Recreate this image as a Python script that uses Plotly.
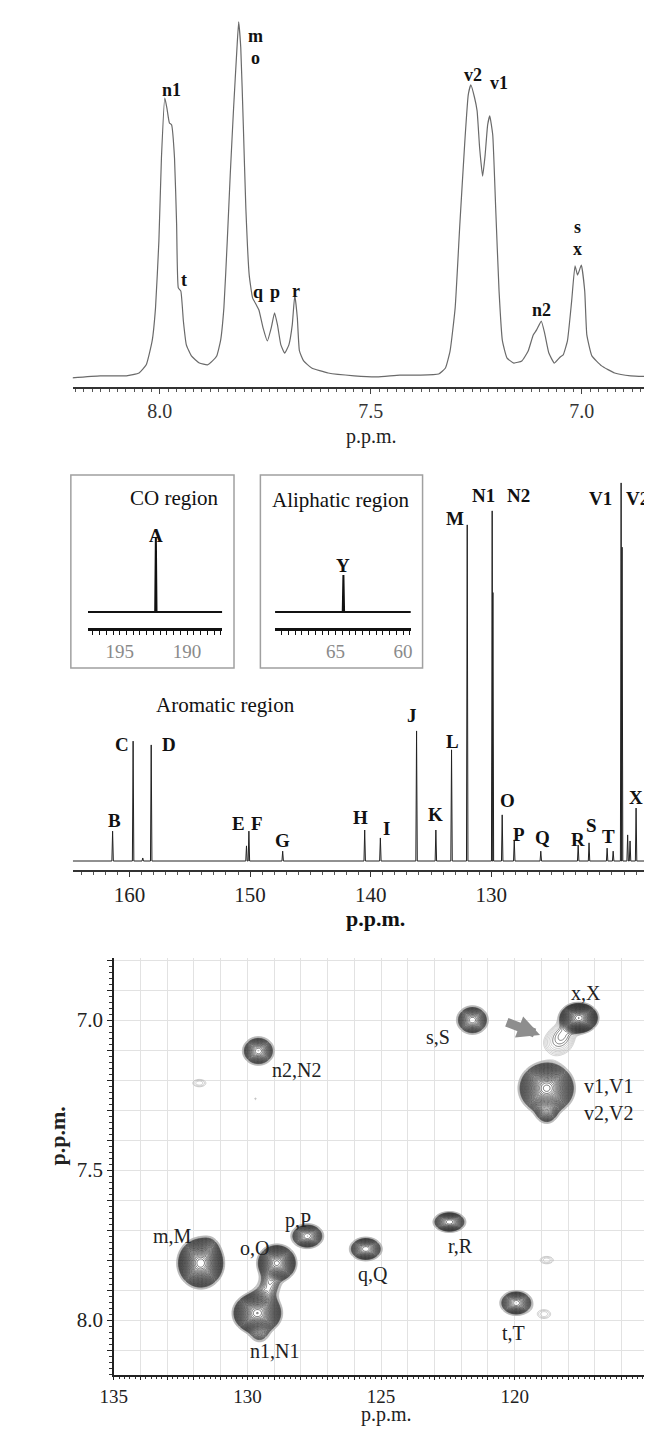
import numpy as np
import plotly.graph_objects as go

W, H = 652, 1434
SERIF = "Liberation Serif, Times New Roman, serif"

# ---------------- 1H spectrum ----------------
h1_ppm = [8.211, 8.141, 8.079, 8.049, 8.032, 8.018, 8.010, 8.002, 7.996, 7.988, 7.983, 7.977, 7.972,
          7.965, 7.960, 7.956, 7.950, 7.944, 7.937, 7.925, 7.906, 7.887, 7.875, 7.865, 7.856, 7.848,
          7.840, 7.833, 7.825, 7.817, 7.813, 7.808, 7.802, 7.796, 7.788, 7.780, 7.771, 7.765, 7.755,
          7.745, 7.736, 7.728, 7.721, 7.713, 7.704, 7.694, 7.686, 7.680, 7.674, 7.669, 7.659, 7.640,
          7.601, 7.539, 7.485, 7.431, 7.385, 7.339, 7.323, 7.312, 7.300, 7.289, 7.277, 7.269, 7.263,
          7.254, 7.248, 7.242, 7.235, 7.229, 7.223, 7.218, 7.211, 7.204, 7.196, 7.188, 7.177, 7.161,
          7.142, 7.127, 7.115, 7.107, 7.096, 7.088, 7.078, 7.065, 7.051, 7.044, 7.034, 7.024, 7.016,
          7.010, 7.001, 6.993, 6.988, 6.976, 6.953, 6.922, 6.884, 6.817]
h1_int = [0.0, 0.6, 0.6, 1.4, 3.7, 10.4, 19.7, 38.5, 61.8, 78.7, 75.8, 71.6, 71.1,
          61.8, 43.0, 25.3, 24.4, 16.0, 9.3, 6.2, 4.2, 3.7, 4.8, 6.2, 10.4, 19.7,
          38.5, 57.0, 75.8, 92.7, 100.0, 92.7, 71.1, 47.8, 28.9, 22.5, 20.5, 19.1, 14.0,
          10.4, 14.0, 18.3, 14.9, 9.3, 7.0, 9.3, 14.9, 23.3, 16.9, 7.6, 4.8, 2.8,
          1.4, 0.6, 0.3, 0.8, 0.8, 1.1, 2.8, 7.6, 19.7, 43.0, 66.6, 79.5, 82.3,
          78.7, 75.0, 64.6, 56.7, 62.6, 71.1, 73.6, 68.3, 47.8, 24.4, 10.4, 5.6, 4.2,
          4.8, 7.6, 12.1, 13.5, 16.0, 12.6, 7.0, 4.2, 5.9, 6.5, 10.4, 21.6, 31.5,
          28.9, 31.7, 24.4, 12.1, 6.2, 3.4, 1.4, 0.6, 0.3]
h1_labels = ["n1", "m", "o", "t", "q", "p", "r", "v2", "v1", "n2", "s", "x"]
h1_label_ppm = [7.971, 7.773, 7.773, 7.942, 7.767, 7.728, 7.677, 7.258, 7.197, 7.096, 7.011, 7.011]
h1_label_int = [81.0, 96.0, 90.0, 27.6, 24.2, 24.2, 24.5, 85.2, 82.9, 19.2, 42.3, 36.2]
h1_ticks = [8.0, 7.5, 7.0]
h1_tick_labels = ["8.0", "7.5", "7.0"]

# ---------------- 13C spectrum (aromatic region) ----------------
c13_ppm = [161.4, 159.7, 158.9, 158.2, 150.3, 150.1, 147.3, 140.5, 139.2, 136.2, 134.6, 133.3,
           132.0, 129.93, 129.87, 129.1, 128.1, 125.9, 122.8, 121.9, 120.4, 119.9, 119.24, 119.16,
           118.7, 118.5, 118.0]
c13_int = [7.9, 31.7, 0.8, 30.7, 4.0, 7.9, 2.6, 8.2, 6.1, 34.4, 8.2, 29.4,
           88.9, 92.6, 71.0, 12.2, 5.6, 2.6, 4.2, 4.8, 3.4, 2.6, 100.0, 83.0,
           6.9, 5.3, 14.0]
c13_labels = ["B", "C", "D", "E", "F", "G", "H", "I", "J", "K", "L", "M", "N1", "N2", "O",
              "P", "Q", "R", "S", "T", "V1", "V2", "X"]
c13_label_ppm = [161.22, 160.6, 156.75, 150.94, 149.46, 147.3, 140.82, 138.69, 136.58, 134.64,
                 133.26, 133.03, 130.68, 127.77, 128.66, 127.69, 125.74, 122.81, 121.70, 120.30,
                 120.95, 117.87, 118.03]
c13_label_int = [10.6, 30.7, 30.7, 10.05, 10.05, 5.3, 11.4, 8.7, 38.6, 12.2, 31.7, 90.7,
                 96.6, 96.6, 15.9, 7.1, 6.1, 5.6, 9.3, 6.6, 96.0, 96.0, 16.7]
c13_ticks = [160, 150, 140, 130]
c13_tick_labels = ["160", "150", "140", "130"]

# insets
co_ppm, co_int = [192.32], [100.0]
co_ticks, co_tick_labels = [195, 190], ["195", "190"]
ali_ppm, ali_int = [64.42], [50.0]
ali_ticks, ali_tick_labels = [65, 60], ["65", "60"]

# ---------------- HSQC cross peaks ----------------
# (13C ppm, 1H ppm, amplitude, sigma13C, sigma1H)
xp_c13 = [131.75, 131.45, 128.9, 129.63, 129.15, 129.4, 129.55, 127.76, 125.57, 122.44, 119.94,
          121.58, 129.59, 117.6, 118.8, 118.8, 118.4, 118.15, 131.8, 129.7, 118.8, 118.9]
xp_h1 = [7.81, 7.76, 7.81, 7.977, 7.875, 7.93, 8.04, 7.72, 7.763, 7.673, 7.943,
         7.0, 7.103, 6.993, 7.227, 7.30, 7.077, 7.04, 7.21, 7.262, 7.80, 7.98]
xp_amp = [100, 4, 60, 100, 5, 6, 5, 20, 20, 20, 20,
          20, 20, 80, 120, 12, 1.9, 1.5, 1.4, 1.2, 1.4, 1.4]
xp_sc = [0.297, 0.2, 0.266, 0.313, 0.22, 0.25, 0.2, 0.253, 0.253, 0.253, 0.253,
         0.245, 0.245, 0.257, 0.349, 0.2, 0.45, 0.3, 0.3, 0.06, 0.3, 0.3]
xp_sh = [0.0287, 0.02, 0.0224, 0.0237, 0.025, 0.025, 0.018, 0.0171, 0.0163, 0.0143, 0.0171,
         0.0196, 0.0196, 0.0179, 0.029, 0.02, 0.035, 0.025, 0.015, 0.005, 0.015, 0.018]
hsqc_labels = ["x,X", "v1,V1", "v2,V2", "s,S", "n2,N2", "m,M", "o,O", "n1,N1", "p,P", "q,Q",
               "r,R", "t,T"]
hsqc_label_c13 = [117.34, 116.5, 116.5, 122.86, 128.16, 132.81, 129.73, 129.0, 128.09, 125.31,
                  122.02, 120.05]
hsqc_label_h1 = [6.91, 7.22, 7.31, 7.057, 7.167, 7.72, 7.76, 8.103, 7.667, 7.847, 7.753, 8.043]
hsqc_xticks = list(range(115, 136))
hsqc_xlabels = {135: "135", 130: "130", 125: "125", 120: "120", 115: "115"}
hsqc_yticks = [round(6.8 + 0.1 * i, 1) for i in range(14)]
hsqc_ylabels = {7.0: "7.0", 7.5: "7.5", 8.0: "8.0"}


def px(x):
    return x / W


def py(y):
    return 1 - y / H


def sticks(ppm, inten, w, hi, lo):
    xs, ys = [hi], [0]
    for p, h in sorted(zip(ppm, inten), reverse=True):
        xs += [p + w, p, p - w]
        ys += [0, h, 0]
    xs.append(lo)
    ys.append(0)
    return xs, ys


fig = go.Figure()

# 1H
fig.add_trace(go.Scatter(x=h1_ppm, y=h1_int, mode="lines", xaxis="x", yaxis="y",
                         line=dict(color="#6a6a6a", width=1.2, shape="spline", smoothing=0.4),
                         hoverinfo="skip"))
# 13C main
sx, sy = sticks(c13_ppm, c13_int, 0.06, 164.7, 116.1)
fig.add_trace(go.Scatter(x=sx, y=sy, mode="lines", xaxis="x2", yaxis="y2",
                         line=dict(color="#222", width=1), hoverinfo="skip"))
# insets
sx, sy = sticks(co_ppm, co_int, 0.05, 197.36, 187.39)
fig.add_trace(go.Scatter(x=sx, y=sy, mode="lines", xaxis="x3", yaxis="y3",
                         line=dict(color="#111", width=2), hoverinfo="skip"))
sx, sy = sticks(ali_ppm, ali_int, 0.05, 69.49, 59.42)
fig.add_trace(go.Scatter(x=sx, y=sy, mode="lines", xaxis="x4", yaxis="y4",
                         line=dict(color="#111", width=2), hoverinfo="skip"))

# HSQC field
gx = np.arange(115.0, 135.0001, 0.05)
gy = np.arange(6.79, 8.19, 0.0025)
GX, GY = np.meshgrid(gx, gy)
F = np.zeros_like(GX)
for c, h, a, sc, sh in zip(xp_c13, xp_h1, xp_amp, xp_sc, xp_sh):
    F += a * np.exp(-0.5 * ((GX - c) / sc) ** 2 - 0.5 * ((GY - h) / sh) ** 2)
Z = np.round(np.log10(F + 1e-3), 3)
fig.add_trace(go.Contour(x=np.round(gx, 3), y=np.round(gy, 4), z=Z, xaxis="x5", yaxis="y5",
                         autocontour=False,
                         contours=dict(start=0.0, end=2.1, size=0.05, coloring="lines"),
                         colorscale=[[0, "#b0b0b0"], [0.14, "#b0b0b0"], [0.15, "#353535"], [1, "#202020"]],
                         zmin=0, zmax=2, zauto=False,
                         line=dict(width=0.6), showscale=False, hoverinfo="skip"))

ann = []
for t, x, y in zip(h1_labels, h1_label_ppm, h1_label_int):
    ann.append(dict(text="<b>%s</b>" % t, x=x, y=y, xref="x", yref="y", showarrow=False,
                    font=dict(family=SERIF, size=18, color="#111")))
for t, x, y in zip(c13_labels, c13_label_ppm, c13_label_int):
    ann.append(dict(text="<b>%s</b>" % t, x=x, y=y, xref="x2", yref="y2", showarrow=False,
                    font=dict(family=SERIF, size=19, color="#111")))
ann.append(dict(text="<b>A</b>", x=co_ppm[0], y=co_int[0] + 3, xref="x3", yref="y3",
                showarrow=False, font=dict(family=SERIF, size=19, color="#111")))
ann.append(dict(text="<b>Y</b>", x=ali_ppm[0], y=ali_int[0] + 13, xref="x4", yref="y4",
                showarrow=False, font=dict(family=SERIF, size=19, color="#111")))
for t, x, y in zip(hsqc_labels, hsqc_label_c13, hsqc_label_h1):
    ann.append(dict(text=t, x=x, y=y, xref="x5", yref="y5", showarrow=False,
                    font=dict(family=SERIF, size=20, color="#222")))
# arrow
ann.append(dict(x=119.05, y=7.05, ax=120.35, ay=7.005, xref="x5", yref="y5", axref="x5",
                ayref="y5", text="", showarrow=True, arrowhead=2, arrowsize=0.5,
                arrowwidth=9, arrowcolor="#8e8e8e"))
# free texts
ann += [
    dict(text="p.p.m.", x=px(358), y=py(415), xref="paper", yref="paper", showarrow=False,
         font=dict(family=SERIF, size=20, color="#222")),
    dict(text="CO region", x=px(108), y=py(490), xref="paper", yref="paper", showarrow=False,
         font=dict(family=SERIF, size=21, color="#111")),
    dict(text="Aliphatic region", x=px(327), y=py(492), xref="paper", yref="paper",
         showarrow=False, font=dict(family=SERIF, size=21, color="#111")),
    dict(text="Aromatic region", x=px(135), y=py(697), xref="paper", yref="paper",
         showarrow=False, font=dict(family=SERIF, size=21, color="#111")),
    dict(text="<b>p.p.m.</b>", x=px(362), y=py(910), xref="paper", yref="paper",
         showarrow=False, font=dict(family=SERIF, size=22, color="#111")),
    dict(text="p.p.m.", x=px(373), y=py(1419), borderpad=0, xref="paper",
         yref="paper", showarrow=False, font=dict(family=SERIF, size=20, color="#222")),
    dict(text="<b>p.p.m.</b>", x=px(21), y=py(1160), xref="paper", yref="paper",
         showarrow=False, textangle=-90, font=dict(family=SERIF, size=22, color="#222")),
]

shapes = [
    dict(type="rect", xref="paper", yref="paper", x0=px(50), x1=px(217), y0=py(660), y1=py(467),
         line=dict(color="#a0a0a0", width=1.5)),
    dict(type="rect", xref="paper", yref="paper", x0=px(244), x1=px(410), y0=py(660), y1=py(467),
         line=dict(color="#a0a0a0", width=1.5)),
    dict(type="line", xref="paper", yref="paper", x0=px(641), x1=px(641), y0=py(1367), y1=py(950),
         line=dict(color="#bbbbbb", width=1)),
]

tick_common = dict(showgrid=False, zeroline=False, showline=True, ticks="outside")

layout = dict(
    width=W, height=H, margin=dict(l=0, r=0, t=0, b=0), showlegend=False,
    paper_bgcolor="white", plot_bgcolor="rgba(0,0,0,0)",
    annotations=ann, shapes=shapes,
    # 1H
    xaxis=dict(domain=[px(52), 1], range=[8.206, 6.817], anchor="y", linecolor="#333",
               linewidth=2, tickvals=h1_ticks, ticktext=h1_tick_labels, ticklen=5,
               tickcolor="#444", tickfont=dict(family=SERIF, size=20, color="#333"),
               minor=dict(dtick=0.02, tick0=0, ticklen=3, tickcolor="#555", ticks="outside"),
               **tick_common),
    yaxis=dict(domain=[py(379), py(5)], range=[-2.53, 102.5], visible=False, anchor="x"),
    # 13C main
    xaxis2=dict(domain=[px(52), 1], range=[164.7, 116.1], anchor="y2", linecolor="#333",
                linewidth=1.5, tickvals=c13_ticks, ticktext=c13_tick_labels, ticklen=5,
                tickcolor="#333", tickfont=dict(family=SERIF, size=21, color="#222"),
                minor=dict(dtick=1, tick0=0, ticklen=3, tickcolor="#555", ticks="outside"),
                **tick_common),
    yaxis2=dict(domain=[py(862), py(470)], range=[-2.38, 101.3], visible=False, anchor="x2"),
    # insets
    xaxis3=dict(domain=[px(67.5), px(205)], range=[197.36, 187.39], anchor="y3",
                linecolor="#111", linewidth=2.5, tickvals=co_ticks, ticktext=co_tick_labels,
                ticklen=4, tickcolor="#111", tickfont=dict(family=SERIF, size=19, color="#8a8a8a"),
                minor=dict(dtick=0.5, tick0=0, ticklen=4, tickcolor="#111", ticks="outside"),
                **tick_common),
    yaxis3=dict(domain=[py(620), py(520)], range=[-21.6, 113.5], visible=False, anchor="x3"),
    xaxis4=dict(domain=[px(259), px(398)], range=[69.49, 59.42], anchor="y4",
                linecolor="#111", linewidth=2.5, tickvals=ali_ticks, ticktext=ali_tick_labels,
                ticklen=4, tickcolor="#111", tickfont=dict(family=SERIF, size=19, color="#8a8a8a"),
                minor=dict(dtick=0.5, tick0=0, ticklen=4, tickcolor="#111", ticks="outside"),
                **tick_common),
    yaxis4=dict(domain=[py(620), py(520)], range=[-21.6, 113.5], visible=False, anchor="x4"),
    # HSQC
    xaxis5=dict(domain=[px(94), px(641)], range=[135, 115], anchor="y5", showline=True,
                linecolor="#222", linewidth=1.5, ticks="outside", ticklen=3, tickcolor="#222",
                tickvals=hsqc_xticks, ticktext=[hsqc_xlabels.get(v, "") for v in hsqc_xticks],
                tickfont=dict(family=SERIF, size=19, color="#222"),
                showgrid=True, gridcolor="#e2e2e2", gridwidth=1, zeroline=False,
                minor=dict(dtick=0.2, tick0=0, ticklen=2, tickcolor="#333", ticks="outside",
                           showgrid=False)),
    yaxis5=dict(domain=[py(1367), py(950)], range=[8.183, 6.793], anchor="x5", showline=True,
                linecolor="#222", linewidth=1.5, ticks="outside", ticklen=5, tickcolor="#222",
                tickvals=hsqc_yticks,
                ticktext=[hsqc_ylabels.get(v, "") for v in hsqc_yticks],
                tickfont=dict(family=SERIF, size=21, color="#222"),
                showgrid=True, gridcolor="#e2e2e2", gridwidth=1, zeroline=False,
                minor=dict(dtick=0.02, tick0=0, ticklen=3, tickcolor="#333", ticks="outside",
                           showgrid=False)),
)
fig.update_layout(**layout)
fig.write_html("out.html")
